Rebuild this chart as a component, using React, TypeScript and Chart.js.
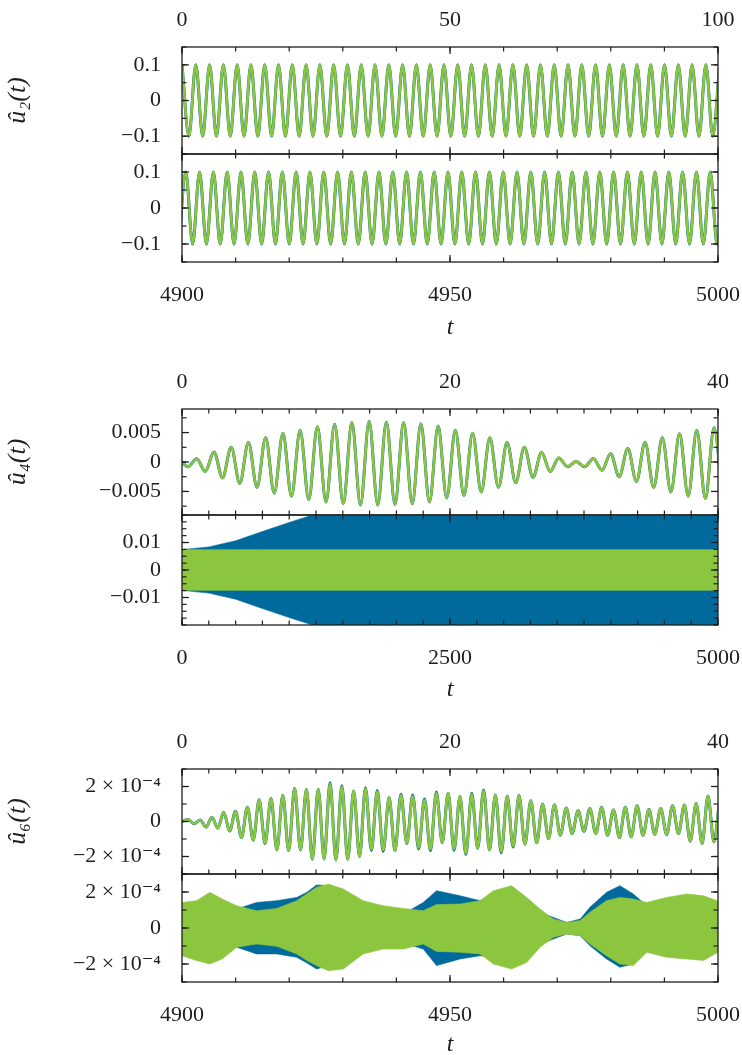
import React, { useEffect, useRef } from 'react';
import { Chart, registerables } from 'chart.js';

Chart.register(...registerables);

// ===================== DATA =====================
// u2, window t in [0,100]: successive extrema, sampled every half period
const u2EarlyStart = 0.0;
const u2EarlyHalfPeriod = 1.286;
const u2EarlyExtrema = [
  0.1, -0.1, 0.1, -0.1, 0.1, -0.1, 0.1, -0.1, 0.1, -0.1,
  0.1, -0.1, 0.1, -0.1, 0.1, -0.1, 0.1, -0.1, 0.1, -0.1,
  0.1, -0.1, 0.1, -0.1, 0.1, -0.1, 0.1, -0.1, 0.1, -0.1,
  0.1, -0.1, 0.1, -0.1, 0.1, -0.1, 0.1, -0.1, 0.1, -0.1,
  0.1, -0.1, 0.1, -0.1, 0.1, -0.1, 0.1, -0.1, 0.1, -0.1,
  0.1, -0.1, 0.1, -0.1, 0.1, -0.1, 0.1, -0.1, 0.1, -0.1,
  0.1, -0.1, 0.1, -0.1, 0.1, -0.1, 0.1, -0.1, 0.1, -0.1,
  0.1, -0.1, 0.1, -0.1, 0.1, -0.1, 0.1, -0.1, 0.1,
];

// u2, window t in [4900,5000]
const u2LateStart = 4899.41;
const u2LateHalfPeriod = 1.2875;
const u2LateExtrema = [
  -0.1, 0.1, -0.1, 0.1, -0.1, 0.1, -0.1, 0.1, -0.1, 0.1,
  -0.1, 0.1, -0.1, 0.1, -0.1, 0.1, -0.1, 0.1, -0.1, 0.1,
  -0.1, 0.1, -0.1, 0.1, -0.1, 0.1, -0.1, 0.1, -0.1, 0.1,
  -0.1, 0.1, -0.1, 0.1, -0.1, 0.1, -0.1, 0.1, -0.1, 0.1,
  -0.1, 0.1, -0.1, 0.1, -0.1, 0.1, -0.1, 0.1, -0.1, 0.1,
  -0.1, 0.1, -0.1, 0.1, -0.1, 0.1, -0.1, 0.1, -0.1, 0.1,
  -0.1, 0.1, -0.1, 0.1, -0.1, 0.1, -0.1, 0.1, -0.1, 0.1,
  -0.1, 0.1, -0.1, 0.1, -0.1, 0.1, -0.1, 0.1, -0.1, 0.1,
];

// u4, window t in [0,40]
const u4EarlyInitial = 0;
const u4EarlyStart = 0.45;
const u4EarlyHalfPeriod = 0.6435;
const u4EarlyExtrema = [
  -0.0008, 0.00055, -0.0016, 0.0017, -0.0027, 0.0025, -0.0036, 0.0033, -0.0043, 0.0041,
  -0.0053, 0.0049, -0.0058, 0.0054, -0.0064, 0.006, -0.0068, 0.0064, -0.0071, 0.0067,
  -0.0073, 0.0069, -0.0073, 0.0068, -0.0072, 0.0067, -0.0071, 0.0065, -0.0068, 0.0061,
  -0.0061, 0.0054, -0.0057, 0.0049, -0.0051, 0.0041, -0.0043, 0.0033, -0.0035, 0.0025,
  -0.0026, 0.0016, -0.0016, 0.0007, -0.0008, 0.0001, -0.0008, 0.0006, -0.0014, 0.0014,
  -0.0025, 0.0023, -0.0033, 0.0033, -0.0043, 0.0041, -0.0051, 0.0048, -0.0058, 0.0054,
  -0.0062, 0.0058, -0.0062,
];

// u4, window t in [0,5000]: envelopes of the fast oscillation
const u4LateTimes = [0, 250, 500, 750, 1000, 1250, 1500, 5000];
const u4LateBlueUpper = [0.0074, 0.0084, 0.0106, 0.014, 0.0173, 0.0204, 0.024, 0.024];
const u4LateBlueLower = [-0.0074, -0.0084, -0.0106, -0.014, -0.0173, -0.0204, -0.024, -0.024];
const u4LateGreenUpper = [0.0074, 0.0074, 0.0074, 0.0074, 0.0074, 0.0074, 0.0074, 0.0074];
const u4LateGreenLower = [-0.0074, -0.0074, -0.0074, -0.0074, -0.0074, -0.0074, -0.0074, -0.0074];

// u6, window t in [0,40], values in units of 1e-4
const u6EarlyInitial = 0;
const u6EarlyStart = 0.47;
const u6EarlyHalfPeriod = 0.4407;
const u6EarlyGreen = [
  0.11, -0.13, 0.09, -0.32, 0.24, -0.38, 0.53, -0.54, 0.58, -0.92,
  0.81, -1.07, 1.24, -1.26, 1.31, -1.63, 1.5, -1.67, 1.9, -1.63,
  1.84, -2.16, 1.84, -2.14, 2.16, -2.2, 1.99, -2.16, 1.75, -2.01,
  1.88, -1.6, 1.71, -1.63, 1.37, -1.67, 1.5, -1.26, 1.46, -1.5,
  1.22, -1.6, 1.62, -1.22, 1.62, -1.58, 1.43, -1.82, 1.56, -1.54,
  1.75, -1.63, 1.52, -1.73, 1.46, -1.41, 1.48, -1.3, 1.18, -1.22,
  1.0, -0.98, 0.96, -0.79, 0.77, -0.69, 0.62, -0.56, 0.75, -0.69,
  0.81, -0.79, 0.66, -0.92, 0.81, -0.88, 0.9, -0.79, 0.68, -0.73,
  0.75, -0.75, 0.9, -0.69, 0.94, -1.13, 1.03, -1.26, 1.46, -1.16,
  1.3,
];
const u6EarlyBlue = [
  0.11, -0.13, 0.09, -0.32, 0.24, -0.38, 0.53, -0.54, 0.58, -0.92,
  0.81, -1.07, 1.24, -1.26, 1.31, -1.63, 1.5, -1.67, 1.9, -1.63,
  1.84, -2.16, 1.84, -2.14, 2.22, -2.2, 2.05, -2.16, 1.75, -2.01,
  1.93, -1.66, 1.77, -1.7, 1.37, -1.67, 1.56, -1.26, 1.52, -1.57,
  1.28, -1.67, 1.68, -1.22, 1.62, -1.64, 1.43, -1.88, 1.61, -1.54,
  1.8, -1.63, 1.52, -1.79, 1.46, -1.46, 1.48, -1.3, 1.18, -1.22,
  1.0, -0.98, 0.96, -0.79, 0.77, -0.69, 0.62, -0.56, 0.75, -0.69,
  0.81, -0.79, 0.66, -0.92, 0.81, -0.88, 0.9, -0.79, 0.68, -0.73,
  0.75, -0.75, 0.9, -0.69, 0.94, -1.13, 1.03, -1.26, 1.46, -1.16,
  1.3,
];

// u6, window t in [4900,5000]: envelopes (units of 1e-4)
const u6LateTimes = [
  4900, 4902.7, 4905.2, 4907.5, 4910.2, 4913.9, 4917.7, 4921.4, 4923.3, 4925.1,
  4927.3, 4930.1, 4933.8, 4937.5, 4941.3, 4945, 4947.5, 4951.9, 4955.6, 4958.1,
  4961.5, 4964.3, 4966.8, 4969.3, 4971.8, 4974.3, 4976.1, 4979.2, 4981.7, 4984.2,
  4986.7, 4990.4, 4994.2, 4997.3, 5000,
];
const u6LateGreenUpper = [
  1.42, 1.52, 1.98, 1.61, 1.24, 0.96, 1.09, 1.52, 1.9, 2.26,
  2.44, 2.16, 1.52, 1.24, 1.09, 0.96, 1.3, 1.33, 1.52, 2.07,
  2.35, 1.7, 1.05, 0.5, 0.31, 0.41, 0.87, 1.52, 1.7, 1.61,
  1.42, 1.7, 1.89, 1.79, 1.5,
];
const u6LateGreenLower = [
  -1.54, -1.81, -2.0, -1.72, -1.07, -0.89, -1.02, -1.44, -1.8, -2.09,
  -2.37, -2.28, -1.44, -1.17, -1.17, -0.89, -1.3, -1.35, -1.44, -2.0,
  -2.28, -1.91, -1.07, -0.52, -0.33, -0.43, -0.89, -1.54, -2.0, -2.09,
  -1.35, -1.63, -1.72, -1.81, -1.35,
];
const u6LateBlueUpper = [
  1.05, 0.87, 0.96, 1.0, 1.05, 1.42, 1.52, 1.7, 1.98, 2.39,
  2.35, 1.98, 1.24, 0.87, 0.78, 1.42, 2.07, 1.79, 1.52, 1.79,
  1.98, 1.52, 0.87, 0.59, 0.31, 0.5, 1.15, 1.98, 2.35, 1.89,
  1.24, 1.24, 1.42, 1.52, 1.05,
];
const u6LateBlueLower = [
  -1.17, -0.98, -1.02, -1.05, -1.07, -1.44, -1.44, -1.63, -1.94, -2.28,
  -2.09, -1.72, -1.17, -0.89, -0.83, -1.17, -2.09, -1.72, -1.54, -1.63,
  -1.91, -1.63, -0.89, -0.61, -0.33, -0.43, -0.98, -1.72, -2.18, -2.0,
  -1.26, -1.35, -1.35, -1.44, -0.98,
];

// axis ticks
const xTicksU2Early = [0, 50, 100];
const xTicksLate = [4900, 4950, 5000];
const xTicksEarly40 = [0, 20, 40];
const xTicksU4Late = [0, 2500, 5000];
const yTicksU2 = [-0.1, 0, 0.1];
const yLabelsU2 = ['−0.1', '0', '0.1'];
const yTicksU4Early = [-0.005, 0, 0.005];
const yLabelsU4Early = ['−0.005', '0', '0.005'];
const yTicksU4Late = [-0.01, 0, 0.01];
const yLabelsU4Late = ['−0.01', '0', '0.01'];
const yTicksU6 = [-2, 0, 2];
const yLabelsU6 = ['−2 × 10⁻⁴', '0', '2 × 10⁻⁴'];

// ===================== STYLE / LAYOUT =====================
const BLUE = '#006a9c';
const GREEN = '#8cc63f';
const INK = '#1e1e1e';
const SERIF = "'Liberation Serif', 'DejaVu Serif', 'Times New Roman', serif";
const TICK_FONT = 22;
const TITLE_FONT = 26;
const PLOT_LEFT = 182;
const PLOT_RIGHT_PAD = 24;
const TOP_SPACE = 47;
const BOTTOM_SPACE = 80;
const EDGE = 3;
const MAJOR_LEN = 7;
const MINOR_LEN = 4.5;

type Pt = { x: number; y: number };
const fromGrid = (start: number, step: number, vals: number[], lead?: Pt): Pt[] => {
  const pts = vals.map((v, i) => ({ x: start + i * step, y: v }));
  return lead ? [lead, ...pts] : pts;
};
const fromPairs = (ts: number[], vs: number[]): Pt[] => ts.map((t, i) => ({ x: t, y: vs[i] }));

const lineDs = (data: Pt[], color: string, width: number) => ({
  data,
  borderColor: color,
  backgroundColor: color,
  borderWidth: width,
  pointRadius: 0,
  fill: false,
  tension: 0.4,
  cubicInterpolationMode: 'monotone',
  clip: 0,
});
const bandDs = (data: Pt[], color: string, fill: any) => ({
  data,
  borderColor: color,
  backgroundColor: color,
  borderWidth: 0.6,
  pointRadius: 0,
  fill,
  tension: 0,
  clip: 0,
});

const minorValues = (min: number, max: number, step: number) => {
  const out: number[] = [];
  const k0 = Math.ceil(min / step - 1e-9);
  const k1 = Math.floor(max / step + 1e-9);
  for (let k = k0; k <= k1; k++) out.push(k * step);
  return out;
};

const zeroPadding = (s: any) => {
  s.paddingTop = 0;
  s.paddingBottom = 0;
  s.paddingLeft = 0;
  s.paddingRight = 0;
};

interface PanelCfg {
  key: string;
  frameTop: number;
  frameBottom: number;
  xPos: 'top' | 'bottom';
  xMin: number; xMax: number; xMajor: number[]; xMinorStep: number;
  yMin: number; yMax: number; yMajor: number[]; yLabels: string[]; yMinorStep: number;
  yTitle?: string;
  xTitle?: string;
  xTitleOffset?: number;
  datasets: any[];
}

const frameTicksPlugin = {
  id: 'frameTicks',
  afterDraw(chart: any, _args: any, opts: any) {
    const { ctx, chartArea: a } = chart;
    const xs = chart.scales.x;
    const ys = chart.scales.y;
    ctx.save();
    ctx.strokeStyle = INK;
    ctx.lineWidth = 1.2;
    const seg = (x1: number, y1: number, x2: number, y2: number) => {
      ctx.beginPath();
      ctx.moveTo(x1, y1);
      ctx.lineTo(x2, y2);
      ctx.stroke();
    };
    const drawX = (vals: number[], len: number) => {
      for (const v of vals) {
        const p = xs.getPixelForValue(v);
        seg(p, a.top, p, a.top + len);
        seg(p, a.bottom, p, a.bottom - len);
      }
    };
    const drawY = (vals: number[], len: number) => {
      for (const v of vals) {
        const p = ys.getPixelForValue(v);
        seg(a.left, p, a.left + len, p);
        seg(a.right, p, a.right - len, p);
      }
    };
    drawX(opts.xMinor, MINOR_LEN);
    drawX(opts.xMajor, MAJOR_LEN);
    drawY(opts.yMinor, MINOR_LEN);
    drawY(opts.yMajor, MAJOR_LEN);
    ctx.lineWidth = 1.3;
    ctx.strokeRect(a.left, a.top, a.right - a.left, a.bottom - a.top);
    ctx.restore();
  },
};

function buildConfig(cfg: PanelCfg): any {
  const isTop = cfg.xPos === 'top';
  const titleLine = TITLE_FONT * 1.2;
  const tickFont = { family: SERIF, size: TICK_FONT };
  const titleFont = { family: SERIF, size: TITLE_FONT, style: 'italic' };
  return {
    type: 'line',
    data: { datasets: cfg.datasets },
    options: {
      animation: false,
      responsive: false,
      maintainAspectRatio: false,
      events: [],
      layout: {
        autoPadding: false,
        padding: { left: 0, right: PLOT_RIGHT_PAD, top: isTop ? 0 : EDGE, bottom: isTop ? EDGE : 0 },
      },
      plugins: {
        legend: { display: false },
        tooltip: { enabled: false },
        frameTicks: {
          xMajor: cfg.xMajor,
          xMinor: minorValues(cfg.xMin, cfg.xMax, cfg.xMinorStep),
          yMajor: cfg.yMajor,
          yMinor: minorValues(cfg.yMin, cfg.yMax, cfg.yMinorStep),
        },
      },
      scales: {
        x: {
          type: 'linear',
          position: cfg.xPos,
          min: cfg.xMin,
          max: cfg.xMax,
          afterFit: (s: any) => {
            s.height = isTop ? TOP_SPACE : BOTTOM_SPACE;
            zeroPadding(s);
          },
          afterBuildTicks: (s: any) => { s.ticks = cfg.xMajor.map((v) => ({ value: v })); },
          grid: { display: false, drawTicks: false },
          border: { display: false },
          ticks: {
            autoSkip: false,
            maxRotation: 0,
            minRotation: 0,
            padding: isTop ? 14 : 20,
            color: INK,
            font: tickFont,
            callback: (_v: any, i: number) => String(cfg.xMajor[i]),
          },
          title: cfg.xTitle
            ? {
                display: true,
                text: cfg.xTitle,
                color: INK,
                font: { family: SERIF, size: 24, style: 'italic' },
                padding: { top: 0, bottom: BOTTOM_SPACE - (24 * 1.2) / 2 - (cfg.xTitleOffset || 66) },
              }
            : { display: false },
        },
        y: {
          type: 'linear',
          position: 'left',
          min: cfg.yMin,
          max: cfg.yMax,
          afterFit: (s: any) => {
            s.width = PLOT_LEFT;
            zeroPadding(s);
          },
          afterBuildTicks: (s: any) => { s.ticks = cfg.yMajor.map((v) => ({ value: v })); },
          grid: { display: false, drawTicks: false },
          border: { display: false },
          ticks: {
            autoSkip: false,
            padding: 21,
            color: INK,
            font: tickFont,
            callback: (_v: any, i: number) => cfg.yLabels[i],
          },
          title: cfg.yTitle
            ? {
                display: true,
                text: cfg.yTitle,
                color: INK,
                font: titleFont,
                padding: { top: 18 - titleLine / 2, bottom: 0 },
              }
            : { display: false },
        },
      },
    },
    plugins: [frameTicksPlugin],
  };
}

const panels: PanelCfg[] = [
  {
    key: 'u2early', frameTop: 47, frameBottom: 154, xPos: 'top',
    xMin: 0, xMax: 100, xMajor: xTicksU2Early, xMinorStep: 10,
    yMin: -0.15, yMax: 0.15, yMajor: yTicksU2, yLabels: yLabelsU2, yMinorStep: 0.05,
    yTitle: 'û₂(t)',
    datasets: [
      lineDs(fromGrid(u2EarlyStart, u2EarlyHalfPeriod, u2EarlyExtrema), GREEN, 2.6),
      lineDs(fromGrid(u2EarlyStart, u2EarlyHalfPeriod, u2EarlyExtrema), BLUE, 3.0),
    ],
  },
  {
    key: 'u2late', frameTop: 154, frameBottom: 262, xPos: 'bottom',
    xMin: 4900, xMax: 5000, xMajor: xTicksLate, xMinorStep: 10,
    yMin: -0.15, yMax: 0.15, yMajor: yTicksU2, yLabels: yLabelsU2, yMinorStep: 0.05,
    xTitle: 't', xTitleOffset: 66,
    datasets: [
      lineDs(fromGrid(u2LateStart, u2LateHalfPeriod, u2LateExtrema), GREEN, 2.6),
      lineDs(fromGrid(u2LateStart, u2LateHalfPeriod, u2LateExtrema), BLUE, 3.0),
    ],
  },
  {
    key: 'u4early', frameTop: 409, frameBottom: 515, xPos: 'top',
    xMin: 0, xMax: 40, xMajor: xTicksEarly40, xMinorStep: 2,
    yMin: -0.009, yMax: 0.009, yMajor: yTicksU4Early, yLabels: yLabelsU4Early, yMinorStep: 0.0025,
    yTitle: 'û₄(t)',
    datasets: [
      lineDs(fromGrid(u4EarlyStart, u4EarlyHalfPeriod, u4EarlyExtrema, { x: 0, y: u4EarlyInitial }), GREEN, 2.6),
      lineDs(fromGrid(u4EarlyStart, u4EarlyHalfPeriod, u4EarlyExtrema, { x: 0, y: u4EarlyInitial }), BLUE, 3.0),
    ],
  },
  {
    key: 'u4late', frameTop: 515, frameBottom: 625, xPos: 'bottom',
    xMin: 0, xMax: 5000, xMajor: xTicksU4Late, xMinorStep: 250,
    yMin: -0.02, yMax: 0.02, yMajor: yTicksU4Late, yLabels: yLabelsU4Late, yMinorStep: 0.0025,
    xTitle: 't', xTitleOffset: 65,
    datasets: [
      bandDs(fromPairs(u4LateTimes, u4LateGreenUpper), GREEN, '+1'),
      bandDs(fromPairs(u4LateTimes, u4LateGreenLower), GREEN, false),
      bandDs(fromPairs(u4LateTimes, u4LateBlueUpper), BLUE, '+1'),
      bandDs(fromPairs(u4LateTimes, u4LateBlueLower), BLUE, false),
    ],
  },
  {
    key: 'u6early', frameTop: 769, frameBottom: 874, xPos: 'top',
    xMin: 0, xMax: 40, xMajor: xTicksEarly40, xMinorStep: 2,
    yMin: -3, yMax: 3, yMajor: yTicksU6, yLabels: yLabelsU6, yMinorStep: 1,
    yTitle: 'û₆(t)',
    datasets: [
      lineDs(fromGrid(u6EarlyStart, u6EarlyHalfPeriod, u6EarlyGreen, { x: 0, y: u6EarlyInitial }), GREEN, 2.6),
      lineDs(fromGrid(u6EarlyStart, u6EarlyHalfPeriod, u6EarlyBlue, { x: 0, y: u6EarlyInitial }), BLUE, 3.0),
    ],
  },
  {
    key: 'u6late', frameTop: 874, frameBottom: 982, xPos: 'bottom',
    xMin: 4900, xMax: 5000, xMajor: xTicksLate, xMinorStep: 10,
    yMin: -3, yMax: 3, yMajor: yTicksU6, yLabels: yLabelsU6, yMinorStep: 1,
    xTitle: 't', xTitleOffset: 63,
    datasets: [
      bandDs(fromPairs(u6LateTimes, u6LateGreenUpper), GREEN, '+1'),
      bandDs(fromPairs(u6LateTimes, u6LateGreenLower), GREEN, false),
      bandDs(fromPairs(u6LateTimes, u6LateBlueUpper), BLUE, '+1'),
      bandDs(fromPairs(u6LateTimes, u6LateBlueLower), BLUE, false),
    ],
  },
];

function Panel({ cfg }: { cfg: PanelCfg }) {
  const ref = useRef<HTMLCanvasElement>(null);
  const isTop = cfg.xPos === 'top';
  const frameH = cfg.frameBottom - cfg.frameTop;
  const top = isTop ? cfg.frameTop - TOP_SPACE : cfg.frameTop - EDGE;
  const height = isTop ? TOP_SPACE + frameH + EDGE : EDGE + frameH + BOTTOM_SPACE;
  useEffect(() => {
    if (!ref.current) return;
    const chart = new Chart(ref.current, buildConfig(cfg));
    return () => chart.destroy();
  }, [cfg]);
  return (
    <canvas
      ref={ref}
      width={742}
      height={height}
      style={{ position: 'absolute', left: 0, top, width: 742, height }}
    />
  );
}

export default function App() {
  return (
    <div
      style={{
        position: 'absolute',
        left: 0,
        top: 0,
        width: 742,
        height: 1055,
        overflow: 'hidden',
        background: '#ffffff',
      }}
    >
      {panels.map((p) => (
        <Panel key={p.key} cfg={p} />
      ))}
    </div>
  );
}
